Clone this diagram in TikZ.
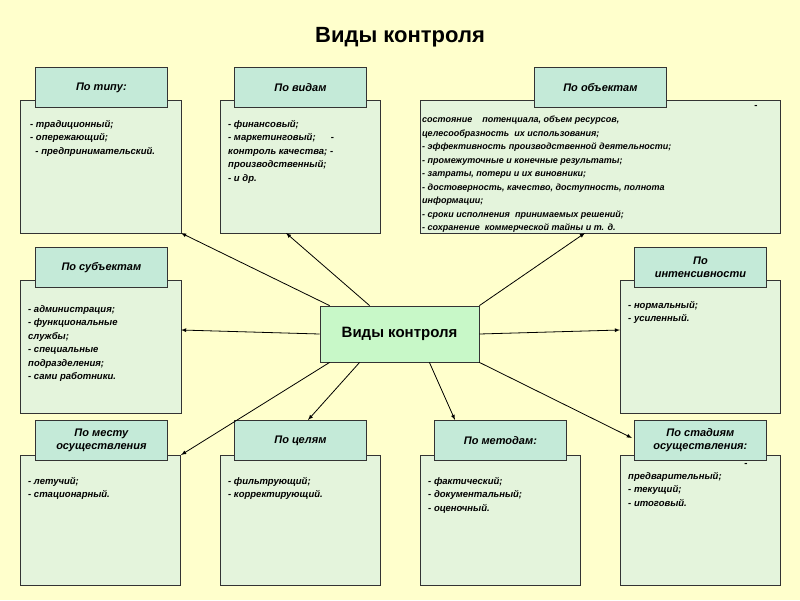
\documentclass[tikz,border=0pt]{standalone}
\usepackage{fontspec}
\setmainfont{Liberation Sans}
\begin{document}
\begin{tikzpicture}[x=1pt,y=-1pt,
 bx/.style={draw=black!80,fill=boxfill,line width=0.8pt},
 hd/.style={draw=black!80,fill=hdfill,line width=0.8pt,minimum width=132pt,minimum height=40pt,anchor=north west,font=\fontsize{11}{13}\selectfont\itshape\bfseries,align=center,inner sep=1pt},
 tx/.style={anchor=north west,font=\fontsize{9.5}{13.5}\selectfont\itshape\bfseries,align=left,inner sep=0pt},
 ar/.style={-latex,line width=0.8pt}]
\definecolor{bg}{HTML}{FFFFCC}
\definecolor{boxfill}{HTML}{E4F4DC}
\definecolor{hdfill}{HTML}{C4EAD8}
\definecolor{cfill}{HTML}{C8F8C8}
\fill[bg] (0,0) rectangle (800,600);
\useasboundingbox (0,0) rectangle (800,600);
\node[font=\fontsize{22}{26}\selectfont\bfseries] (title) at (400,37) {Виды контроля};
% row 1
\draw[bx] (20,100) rectangle (181,233) coordinate (a1);
\node[hd] (h1) at (35,67) {По типу:};
\node[tx] (t1) at (30,120) {- традиционный;\\- опережающий;\\\ \ - предпринимательский.};
\draw[bx] (220,100) rectangle (380,233);
\coordinate (a2) at (286,233);
\node[hd] (h2) at (234,67) {По видам};
\node[tx] (t2) at (228,120) {- финансовый;\\- маркетинговый; \hspace{10pt} -\\контроль качества; -\\производственный;\\- и др.};
\draw[bx] (420,100) rectangle (780,233);
\coordinate (a3) at (585,233);
\node[hd] (h3) at (534,67) {По объектам};
\node[font=\fontsize{9.5}{11}\selectfont\bfseries,inner sep=0pt] (d3) at (756,107) {-};
\node[tx,font=\fontsize{9}{13.5}\selectfont\itshape\bfseries] (t3) at (422,116) {состояние \ \ \ потенциала, объем ресурсов,\\целесообразность \ их использования;\\- эффективность производственной деятельности;\\- промежуточные и конечные результаты;\\- затраты, потери и их виновники;\\- достоверность, качество, доступность, полнота\\информации;\\- сроки исполнения \ принимаемых решений;\\- сохранение \ коммерческой тайны и т. д.};
% row 2
\draw[bx] (20,280) rectangle (181,413);
\coordinate (a4) at (181,330);
\node[hd] (h4) at (35,247) {По субъектам};
\node[tx] (t4) at (28,305) {- администрация;\\- функциональные\\службы;\\- специальные\\подразделения;\\- сами работники.};
\draw[bx] (620,280) rectangle (780,413);
\coordinate (a5) at (620,330);
\node[hd] (h5) at (634,247) {По\\интенсивности};
\node[tx] (t5) at (628,301) {- нормальный;\\- усиленный.};
% center
\node[draw=black!80,fill=cfill,line width=0.8pt,minimum width=159pt,minimum height=56pt,font=\fontsize{15}{17}\selectfont\bfseries] (c) at (399.5,334) {Виды контроля};
% row 3
\foreach \x/\n in {20/6,220/7,420/8,620/9}{\draw[bx] (\x,455) rectangle ++(160,130);}
\node[hd] (h6) at (35,420) {По месту\\осуществления};
\node[hd] (h7) at (234,420) {По целям};
\node[hd] (h8) at (434,420) {По методам:};
\node[hd] (h9) at (634,420) {По стадиям\\осуществления:};
\node[tx] (t6) at (28,477) {- летучий;\\- стационарный.};
\node[tx] (t7) at (228,477) {- фильтрующий;\\- корректирующий.};
\node[tx] (t8) at (428,477) {- фактический;\\- документальный;\\- оценочный.};
\node[font=\fontsize{9.5}{11}\selectfont\bfseries,inner sep=0pt] (d9) at (746,465) {-};
\node[tx] (t9) at (628,472) {предварительный;\\- текущий;\\- итоговый.};
% arrows
\draw[ar] (c.north west) ++(10,0) -- (a1);
\draw[ar] (c.north west) ++(50,0) -- (a2);
\draw[ar] (c.north east) -- (a3);
\draw[ar] (c.west) -- (a4);
\draw[ar] (c.east) -- (a5);
\draw[ar] (c.south west) ++(10,0) -- (181,455);
\draw[ar] (c.south west) ++(40,0) -- (h7.north -| 308,418);
\draw[ar] (c.south east) ++(-50,0) -- (455,420);
\draw[ar] (c.south east) -- (632,438);
\end{tikzpicture}
\end{document}
